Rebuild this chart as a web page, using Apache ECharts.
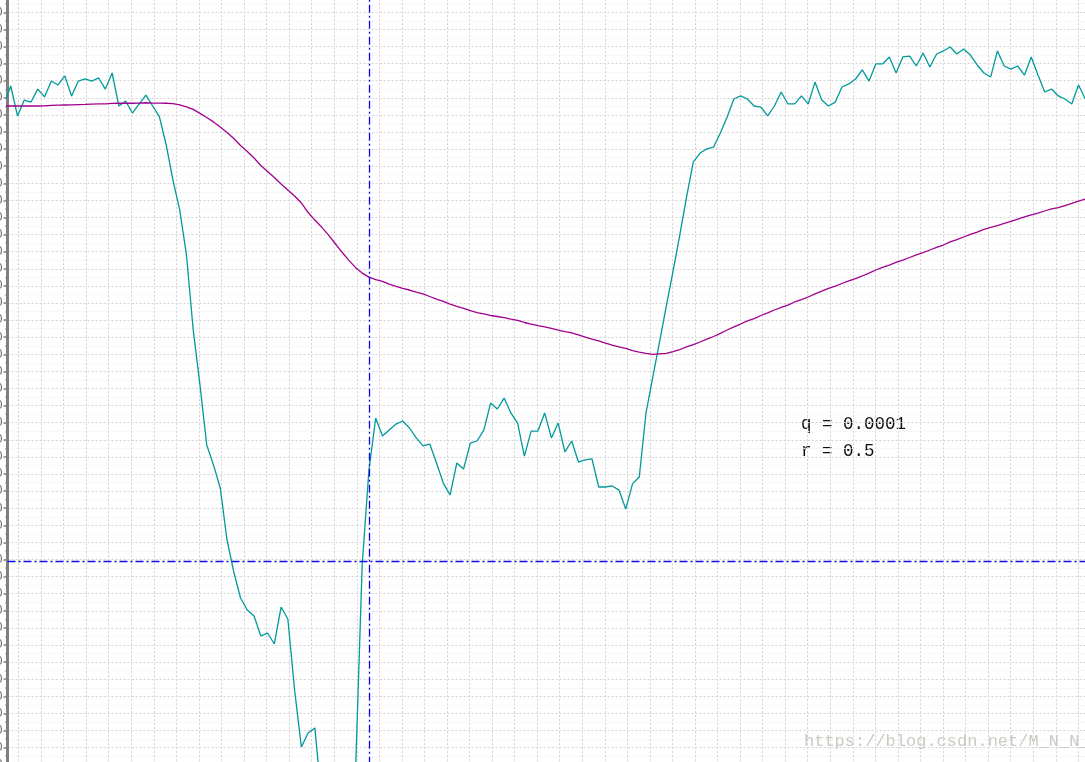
<!DOCTYPE html>
<html><head><meta charset="utf-8">
<script src="https://cdn.jsdelivr.net/npm/echarts@6/dist/echarts.min.js"></script>
<style>html,body{margin:0;padding:0;background:#fff;overflow:hidden}#c{width:1085px;height:762px;}</style>
</head><body><div id="c"></div>
<script>
// Raw measurement (teal) and Kalman-filtered estimate (magenta), one value per sample index
const measured = [
266.4,276.9,259.4,268.7,267.5,275.1,270.5,279.8,277.5,282.8,
271.1,279.8,281.0,279.8,281.6,275.1,284.5,265.2,268.1,261.1,
266.4,271.6,265.2,258.8,242.4,221.9,204.4,178.1,134.2,102.0,
67.0,55.3,41.8,11.4,-7.3,-22.5,-29.5,-33.0,-44.7,-43.0,
-49.4,-27.8,-34.8,-76.3,-109.6,-101.5,-98.5,-140.6,-158.2,-164.0,
-158.2,-146.5,-126.0,-3.2,52.3,82.7,72.2,75.7,79.2,81.0,
76.9,71.1,66.4,67.5,56.4,44.7,37.7,56.4,52.9,68.1,
69.3,75.7,91.5,88.0,94.4,85.7,79.8,60.5,75.1,75.1,
85.7,71.1,79.8,62.9,69.3,57.0,58.2,58.8,42.4,42.4,
43.0,40.6,29.5,44.2,48.2,85.7,106.7,127.2,148.2,168.7,
189.8,212.0,232.5,237.7,240.1,241.2,249.4,258.8,269.3,271.1,
269.3,265.2,264.6,259.4,265.2,273.4,266.4,266.4,271.1,266.4,
279.2,268.7,265.2,267.5,276.3,278.1,281.0,286.3,279.8,289.8,
289.8,293.9,284.5,293.9,294.4,288.6,296.2,288.0,295.6,297.4,
299.7,295.6,298.5,295.0,289.2,284.5,282.2,297.4,288.6,286.8,
288.6,283.3,293.9,283.3,273.4,275.1,271.1,269.3,266.4,277.5,
269.3
];
const filtered = [
265.2,265.2,265.2,265.2,265.2,265.2,265.3,265.6,265.7,265.8,
265.9,266.0,266.1,266.3,266.4,266.5,266.7,266.8,266.8,266.8,
266.9,267.1,266.9,266.9,266.8,266.6,265.8,264.7,263.2,260.9,
258.5,255.9,252.9,249.7,246.2,242.1,238.6,234.8,230.4,226.9,
223.4,219.6,216.1,212.6,208.5,202.9,198.5,194.4,189.8,184.8,
179.8,175.1,170.8,167.5,165.1,163.7,162.6,161.1,159.7,158.5,
157.6,156.4,155.3,153.8,152.3,150.9,149.4,148.0,146.8,145.6,
144.4,143.6,142.7,142.1,141.5,140.6,139.8,138.6,137.7,136.8,
136.0,135.1,134.2,133.3,132.5,131.3,130.1,128.9,127.8,126.6,
125.4,124.3,123.4,122.2,121.3,120.5,119.9,120.2,120.5,121.6,
122.8,124.3,125.7,127.2,128.9,130.4,132.2,134.2,136.0,137.7,
139.5,140.9,142.7,144.2,145.9,147.4,148.8,150.6,152.0,153.5,
155.3,157.0,158.5,159.9,161.4,162.9,164.3,165.8,167.5,169.3,
170.8,172.2,173.7,175.1,176.6,178.1,179.5,181.0,182.5,183.9,
185.7,187.1,188.6,190.1,191.5,193.0,194.2,195.3,196.5,197.7,
199.1,200.3,201.5,202.6,203.8,205.0,205.8,207.0,208.2,209.6,
210.8
];
const crossX = 54;        // vertical dash-dot marker (sample index)
const crossY = -0.9;      // horizontal dash-dot marker (value)
const yMin = -120, yMax = 330, yStep = 10;
const xMin = 0.518, xMax = 160;
const vGridCount = 47;
const annotations = ['q = 0.0001', 'r = 0.5'];
const watermark = 'https://blog.csdn.net/M_N_N_';

const chart = echarts.init(document.getElementById('c'), null, {renderer: 'canvas'});
const idx = (arr) => arr.map((v, i) => [i, v]);
const dotted = {color: '#d2d2d2', width: 1, type: [2, 2]};

chart.setOption({
  animation: false,
  backgroundColor: '#ffffff',
  grid: [
    {left: 7.5, top: -4.8, width: 1077.8, height: 769.5, containLabel: false, outerBoundsMode: 'none'},
    {left: 18.5, top: -4.8, width: 1059.85, height: 769.5, containLabel: false, outerBoundsMode: 'none'}
  ],
  xAxis: [
    {type: 'value', gridIndex: 0, min: xMin, max: xMax, show: false},
    {type: 'value', gridIndex: 1, min: 0, max: vGridCount, interval: 1,
     axisLine: {show: false}, axisTick: {show: false}, axisLabel: {show: false},
     splitLine: {show: true, lineStyle: dotted}}
  ],
  yAxis: [
    {type: 'value', gridIndex: 0, min: yMin, max: yMax, interval: yStep, position: 'left',
     axisLine: {show: true, lineStyle: {color: '#7f7f7f', width: 3}},
     axisTick: {show: true, length: 4, lineStyle: {color: '#7f7f7f', width: 1.5}},
     minorTick: {show: true, splitNumber: 2, length: 2, lineStyle: {color: '#7f7f7f', width: 1.5}},
     axisLabel: {show: true, margin: 5, color: '#666', fontSize: 12, fontFamily: 'Liberation Sans'},
     splitLine: {show: true, lineStyle: dotted},
     minorSplitLine: {show: true, lineStyle: {color: '#f0f0f0', width: 1, type: [2, 2]}}},
    {type: 'value', gridIndex: 1, min: 0, max: 1, show: false, splitLine: {show: false}}
  ],
  series: [
    {type: 'line', name: 'measured', xAxisIndex: 0, yAxisIndex: 0, data: idx(measured), clip: false,
     showSymbol: false, symbol: 'none', lineStyle: {color: '#00999c', width: 1.3}, z: 3,
     markLine: {silent: true, symbol: 'none', label: {show: false}, animation: false,
       lineStyle: {color: '#0c0ce6', width: 1.3, type: [8, 3, 2, 3]},
       data: [{xAxis: crossX}, {yAxis: crossY}]}},
    {type: 'line', name: 'filtered', xAxisIndex: 0, yAxisIndex: 0, data: idx(filtered), clip: false,
     showSymbol: false, symbol: 'none', lineStyle: {color: '#a0008e', width: 1.3}, z: 4}
  ],
  graphic: [
    {type: 'text', left: 801, top: 415, style: {text: annotations[0], fill: '#111', font: '17.5px "Liberation Mono"'}},
    {type: 'text', left: 801, top: 442, style: {text: annotations[1], fill: '#111', font: '17.5px "Liberation Mono"'}},
    {type: 'text', left: 804, top: 733, z: 10, style: {text: watermark, fill: 'rgba(190,190,180,0.8)', font: '17px "Liberation Mono"'}}
  ]
});
</script>
</body></html>
